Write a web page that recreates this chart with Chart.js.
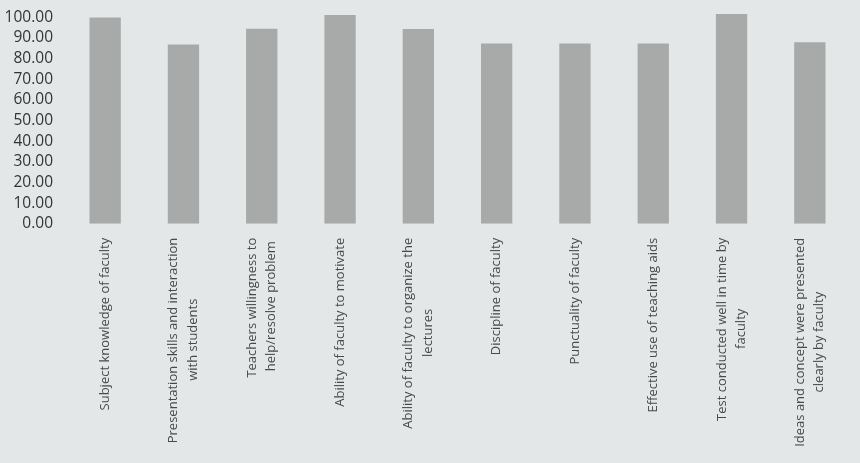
<!DOCTYPE html>
<html>
<head>
<meta charset="utf-8">
<script src="https://cdn.jsdelivr.net/npm/chart.js@4.4.1/dist/chart.umd.min.js"></script>
<style>
  html, body { margin: 0; padding: 0; background: #e4e7e8; }
  #wrap { width: 860px; height: 463px; }
</style>
</head>
<body>
<div id="wrap"><canvas id="grafico"></canvas></div>
<script>
// categorias (eixo X)
var categorias = [
  'Subject knowledge of faculty',
  ['Presentation skills and interaction', 'with students'],
  ['Teachers willingness to', 'help/resolve problem'],
  'Ability of faculty to motivate',
  ['Ability of faculty to organize the', 'lectures'],
  'Discipline of faculty',
  'Punctuality of faculty',
  'Effective use of teaching aids',
  ['Test conducted well in time by', 'faculty'],
  ['Ideas and concept were presented', 'clearly by faculty']
];

// valores (%)
var valores = [99.8, 86.7, 94.4, 101, 94.2, 87.3, 87.2, 87.2, 101.5, 87.8];

// marcas do eixo Y
var ticksY = [0, 10, 20, 30, 40, 50, 60, 70, 80, 90, 100];

var tamX = 13;
var meiaLinha = 9.75; // metade da distancia entre linhas do rotulo

// rotulos de duas linhas: centraliza a linha curta e o bloco no tick
var medidor = document.createElement('canvas').getContext('2d');
function montaRotulo(rotulo) {
  if (!Array.isArray(rotulo)) return ['', rotulo];
  medidor.font = tamX + 'px "Open Sans"';
  var maior = Math.max.apply(null, rotulo.map(function (l) { return medidor.measureText(l).width; }));
  var esp = medidor.measureText(' ').width;
  var linhas = rotulo.map(function (l) {
    var falta = (maior - medidor.measureText(l).width) / 2;
    return l + ' '.repeat(Math.max(0, Math.round(falta / esp)));
  });
  return [linhas[0], '', linhas[1]];
}

var ctx = document.getElementById('grafico').getContext('2d');
var grafico = new Chart(ctx, {
  type: 'bar',
  data: {
    labels: categorias,
    datasets: [{
      data: valores,
      backgroundColor: '#a8a9a9',
      borderWidth: 0,
      barPercentage: 0.4,
      categoryPercentage: 1
    }]
  },
  options: {
    responsive: true,
    maintainAspectRatio: false,
    animation: false,
    layout: { padding: { top: 13, right: 11, bottom: 0, left: 0 } },
    plugins: {
      legend: { display: false },
      tooltip: { enabled: false }
    },
    scales: {
      x: {
        grid: { display: false, drawTicks: false },
        border: { display: false },
        ticks: {
          autoSkip: false,
          minRotation: 90,
          maxRotation: 90,
          padding: 14,
          labelOffset: -meiaLinha,
          color: '#48494a',
          font: { family: 'Open Sans', size: tamX, lineHeight: meiaLinha / tamX },
          callback: function (v, i) { return montaRotulo(categorias[i]); }
        },
        afterFit: function (s) {
          s.height = 239.2;
          s.paddingLeft = 0;
          s.paddingRight = 0;
        }
      },
      y: {
        min: 0,
        max: 102,
        grid: { display: false, drawTicks: false },
        border: { display: false },
        afterBuildTicks: function (s) {
          s.ticks = ticksY.map(function (v) { return { value: v }; });
        },
        ticks: {
          autoSkip: false,
          padding: 13,
          color: '#333435',
          font: { family: 'Open Sans', size: 15.5 },
          callback: function (v) { return Number(v).toFixed(2); }
        },
        afterFit: function (s) {
          s.width = 66;
          s.paddingTop = 0;
          s.paddingBottom = 0;
        }
      }
    }
  }
});
</script>
</body>
</html>
